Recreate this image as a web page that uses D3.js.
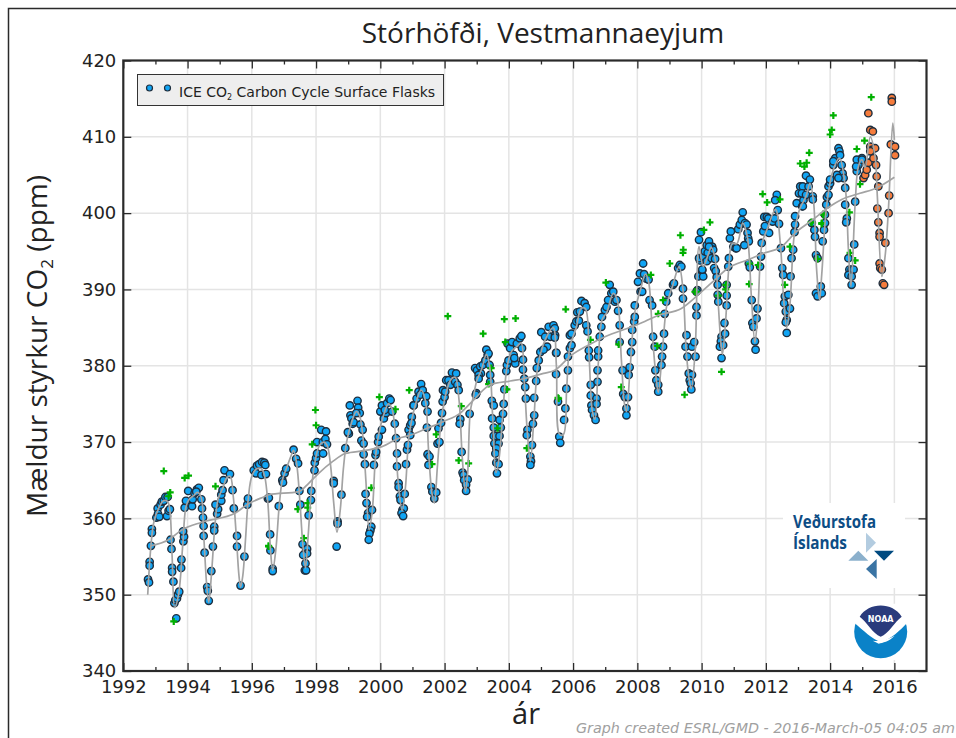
<!DOCTYPE html>
<html><head><meta charset="utf-8">
<script src="https://d3js.org/d3.v7.min.js"></script>
<style>html,body{margin:0;padding:0;background:#fff}svg{display:block}</style>
</head><body><svg id="c" width="956" height="738"></svg>
<script>
const yearTicks=[1992,1994,1996,1998,2000,2002,2004,2006,2008,2010,2012,2014,2016];
const minorYears=[1993,1995,1997,1999,2001,2003,2005,2007,2009,2011,2013,2015];
const ppmTicks=[340,350,360,370,380,390,400,410,420];
const flasks1990s=[[1992.77,352],[1992.8,351.6],[1992.82,354.3],[1992.82,353.8],[1992.86,356.4],[1992.89,358.6],[1992.89,358.1],[1993.03,360.1],[1993.07,361.3],[1993.08,360.6],[1993.12,360.2],[1993.16,361.8],[1993.2,362.2],[1993.26,362.3],[1993.31,362.8],[1993.38,362.8],[1993.36,360.3],[1993.41,361],[1993.45,361.2],[1993.47,357.2],[1993.5,356],[1993.52,353.5],[1993.52,353],[1993.56,351.7],[1993.59,348.9],[1993.62,349.3],[1993.67,349.5],[1993.7,350],[1993.74,350.4],[1993.65,346.9],[1993.8,353.5],[1993.81,354.6],[1993.87,357],[1993.89,357.6],[1993.86,358.3],[1993.91,361.4],[1993.95,362.3],[1994.02,363.6],[1994.14,361.6],[1994.16,362.5],[1994.22,363.3],[1994.29,363.8],[1994.35,364],[1994.27,363.5],[1994.43,362.5],[1994.45,361.3],[1994.48,360.1],[1994.5,359],[1994.5,357.7],[1994.53,355.5],[1994.61,351],[1994.63,350.5],[1994.66,349.2],[1994.74,353.1],[1994.79,356.3],[1994.83,358.9],[1994.83,358.4],[1994.92,360.6],[1994.95,361.2],[1994.87,361.8],[1995.05,362.3],[1995.05,363.1],[1995.09,363.7],[1995.12,365],[1995.15,366.3],[1995.32,365.8],[1995.4,363.7],[1995.44,361.3],[1995.54,357.7],[1995.54,356.3],[1995.65,351.2],[1995.77,355],[1995.86,361.8],[1995.88,362.6],[1996.06,366.3],[1996.13,365.9],[1996.16,366.9],[1996.23,367.1],[1996.32,367.4],[1996.39,367.3],[1996.3,365.7],[1996.44,365.8],[1996.42,367],[1996.5,362.6],[1996.53,362.7],[1996.57,357.9],[1996.58,355.8],[1996.65,353.4],[1996.65,353.1],[1996.84,361.6],[1996.95,365],[1996.97,364.7],[1997.02,365.9],[1997.07,366.5],[1997.3,369],[1997.38,367.8],[1997.44,367.2],[1997.48,363.6],[1997.51,361.8],[1997.58,356.6],[1997.69,355.8],[1997.72,356],[1997.72,355.4],[1997.6,355.2],[1997.67,354.1],[1997.65,353.2],[1997.69,353.2],[1997.77,360.4],[1997.84,362.4],[1997.85,363.6],[1997.95,366.3],[1997.96,367.3],[1998,367.9],[1998.03,368.5],[1998.03,370],[1998.16,371.6],[1998.21,370],[1998.31,371.4],[1998.29,370.4],[1998.34,369.7],[1998.22,368.5],[1998.55,364.9],[1998.55,364.6],[1998.79,363.1],[1998.67,359.6],[1998.67,359.3],[1998.64,356.3],[1998.91,369.2],[1999.02,371.1],[1998.99,371.3],[1999.05,374.8],[1999.07,373.5],[1999.1,373.1],[1999.14,372.4],[1999.17,372.6],[1999.29,375.4],[1999.31,374.5],[1999.36,373.8],[1999.25,373.8],[1999.38,372.3],[1999.45,371.6],[1999.41,370.2],[1999.48,369.8],[1999.48,368.4],[1999.52,367.1],[1999.54,363.2],[1999.57,362],[1999.62,360.7],[1999.59,360.2],[1999.72,358.9],[1999.69,358.4],[1999.66,358],[1999.64,357.2],[1999.74,361.1],[1999.8,367],[1999.85,368.3],[1999.87,368.7],[1999.93,370],[1999.95,370.7]];
const flasks2000s=[[2000.05,371.6],[2000,374],[2000.05,374.8],[2000.11,373.1],[2000.18,373.8],[2000.14,374.2],[2000.21,375.1],[2000.28,375.7],[2000.32,375.5],[2000.37,374],[2000.45,372.4],[2000.49,370.5],[2000.52,368.5],[2000.52,366.8],[2000.57,364.6],[2000.57,364.1],[2000.61,362.9],[2000.63,362.4],[2000.69,361.1],[2000.73,361.3],[2000.66,360.7],[2000.71,360.3],[2000.76,363.2],[2000.8,367.1],[2000.83,369],[2000.86,369.6],[2000.88,371.6],[2000.93,370.9],[2000.98,373.3],[2000.93,372.2],[2000.97,372.5],[2001.03,374.8],[2001.04,374.8],[2001.13,375.7],[2001.19,376.6],[2001.27,377.6],[2001.32,376.8],[2001.24,376.2],[2001.43,376],[2001.4,375.1],[2001.47,374],[2001.45,371.9],[2001.47,368.4],[2001.53,368.1],[2001.5,367],[2001.59,364.1],[2001.62,363.5],[2001.68,362.6],[2001.74,363.4],[2001.78,369.8],[2001.84,370],[2001.81,371.8],[2001.89,372.5],[2001.92,373.8],[2001.94,375.3],[2002,375.9],[2001.95,376.8],[2002.02,376.6],[2002.05,378.1],[2002.12,378.1],[2002.18,377.5],[2002.23,379.1],[2002.36,379],[2002.33,377.9],[2002.4,377.5],[2002.44,376.8],[2002.49,373],[2002.47,372.4],[2002.53,368.7],[2002.56,366],[2002.59,365.7],[2002.61,365],[2002.72,365.1],[2002.67,364.4],[2002.67,363.6],[2002.78,373.7],[2002.99,376.4],[2002.97,376.2],[2002.95,379.7],[2003.01,379.4],[2003.11,379.9],[2003.13,379],[2003.06,378.8],[2003.06,378.3],[2003.19,380.1],[2003.27,380.7],[2003.3,382.1],[2003.34,381.4],[2003.37,381.6],[2003.4,380.1],[2003.42,378.8],[2003.42,377.9],[2003.47,375.4],[2003.53,374.8],[2003.48,373.1],[2003.53,371.9],[2003.53,370.8],[2003.61,370.8],[2003.71,370.8],[2003.55,369.8],[2003.68,369.8],[2003.61,369.2],[2003.58,368.5],[2003.61,367.3],[2003.68,367.1],[2003.63,365.9],[2003.75,371.9],[2003.71,372.9],[2003.82,373.7],[2003.84,375],[2003.86,376.9],[2003.92,379.3],[2003.94,380.1],[2003.99,380.7],[2003.96,382.9],[2004.04,382.3],[2004.1,383.1],[2004.15,381.4],[2004.2,380.3],[2004.17,381],[2004.25,382.9],[2004.34,383.6],[2004.39,383.9],[2004.41,382.3],[2004.44,380.8],[2004.44,379.5],[2004.48,378.3],[2004.51,377.2],[2004.53,375.7],[2004.58,371.6],[2004.56,370.9],[2004.72,369.6],[2004.67,368.1],[2004.69,367.5],[2004.67,367],[2004.75,372.4],[2004.79,373.5],[2004.79,375.8],[2004.85,378],[2004.87,379.7],[2004.93,380.7],[2004.98,381.8],[2005.01,384.4],[2005.13,383.8],[2005.19,382.5],[2005.08,382.1],[2005.24,385.1],[2005.39,385.3],[2005.29,383.8],[2005.44,384],[2005.47,381.7],[2005.47,378.9],[2005.57,370.7],[2005.6,369.9],[2005.43,384.9],[2005.43,383.7],[2005.48,381.7],[2005.53,375.3],[2005.72,372.9],[2005.76,374.4],[2005.79,377],[2005.84,379.4],[2005.84,381.2],[2005.9,382.3],[2005.95,382.7],[2005.9,384],[2005.95,384.2],[2006.05,385.3],[2006.1,385.8],[2006.18,385.9],[2006.13,387],[2006.21,387.1],[2006.26,388.5],[2006.36,388.2],[2006.41,387.7],[2006.41,385.3],[2006.45,384.5],[2006.49,382],[2006.5,381.1],[2006.55,377.5],[2006.55,376.1],[2006.57,374.8],[2006.59,374.2],[2006.65,373.5],[2006.7,372.9],[2006.73,375.7],[2006.73,375],[2006.76,379.4],[2006.76,377.9],[2006.78,381.2],[2006.78,382],[2006.83,383.8],[2006.88,385.1],[2006.9,386.4],[2006.99,387.3],[2007.04,387.7],[2007.14,390.6],[2007.09,388.6],[2007.19,389.5],[2007.25,389.7],[2007.3,388.4],[2007.35,388.6],[2007.4,387.2],[2007.45,385.3],[2007.45,383.1],[2007.54,379.4],[2007.73,378.8],[2007.76,379.8],[2007.56,376.3],[2007.61,375.9],[2007.71,375.9],[2007.66,374.4],[2007.66,373.5],[2007.8,381.8],[2007.84,383.1],[2007.84,384.7],[2007.9,385.8],[2007.92,386.4],[2007.92,387.9],[2008.02,391],[2008.1,389.7],[2008.15,389.7],[2008.08,392.1],[2008.18,393.4],[2008.21,392],[2008.28,391.4],[2008.35,391.3],[2008.38,388.6],[2008.46,387.9],[2008.49,383.8],[2008.54,382.5],[2008.56,379.4],[2008.59,378.1],[2008.65,377.5],[2008.65,376.6],[2008.75,380.1],[2008.77,381.2],[2008.8,382.5],[2008.83,384.2],[2008.85,386.8],[2008.9,388.4],[2008.96,389.5],[2009.11,390.6],[2009.14,390.8],[2009.27,392.8],[2009.32,393.2],[2009.37,393],[2009.42,390.1],[2009.42,388.8],[2009.53,384],[2009.5,382.5],[2009.56,381.2],[2009.7,382.5],[2009.77,383.1],[2009.81,381.2],[2009.6,379],[2009.7,378.8],[2009.63,378.1],[2009.66,377.7],[2009.68,376.9],[2009.84,386.6],[2009.84,387.7],[2009.87,389.9],[2009.9,391.7],[2009.95,393.8]];
const flasks2010s=[[2009.92,396.5],[2009.98,397.5],[2009.84,389.7],[2009.92,394.1],[2010.02,392.5],[2010.05,394.3],[2010.05,391.7],[2010.02,392.6],[2010.1,395],[2010.16,393.7],[2010.19,394.8],[2010.16,395.8],[2010.23,396.3],[2010.33,395.6],[2010.36,395.2],[2010.23,395.6],[2010.31,394.1],[2010.42,394],[2010.39,392.8],[2010.44,392.4],[2010.47,391.6],[2010.5,390.6],[2010.5,389.3],[2010.52,388.4],[2010.62,383.8],[2010.6,383.2],[2010.57,382.5],[2010.67,382.7],[2010.62,381],[2010.73,384.2],[2010.71,385.6],[2010.78,387.9],[2010.78,389.2],[2010.78,390.6],[2010.83,393],[2010.85,394.1],[2010.88,396.7],[2010.91,397.6],[2010.99,395.6],[2011.06,395.4],[2011.09,395.4],[2011.14,397.9],[2011.19,398.5],[2011.25,399.1],[2011.28,400.1],[2011.35,398.7],[2011.4,398.5],[2011.43,397.4],[2011.45,396.7],[2011.47,396.3],[2011.33,395.8],[2011.47,393.4],[2011.5,392.9],[2011.56,388.6],[2011.58,385.6],[2011.61,385.1],[2011.71,386.2],[2011.74,387.5],[2011.66,383.2],[2011.68,382.1],[2011.82,393],[2011.85,394.3],[2011.87,396.1],[2011.92,397.6],[2011.95,399.5],[2012.03,399.5],[2012.08,399.3],[2011.97,398.3],[2012.1,397.4],[2012.21,398.9],[2012.27,399.3],[2012.34,402.4],[2012.29,401.7],[2012.37,400.4],[2012.41,398.6],[2012.47,395.4],[2012.51,392.8],[2012.54,391.9],[2012.59,389.1],[2012.57,388.2],[2012.62,387.1],[2012.75,387.5],[2012.7,389.3],[2012.65,386],[2012.62,385.7],[2012.65,384.3],[2012.77,391.7],[2012.8,394.1],[2012.85,395.2],[2012.89,397.5],[2012.91,398.5],[2012.91,399.6],[2012.96,401.3],[2013.13,400.9],[2013.03,402.6],[2013.17,401.7],[2013.07,403.5],[2013.15,403.5],[2013.12,402.6],[2013.25,402.4],[2013.33,403.5],[2013.25,404.9],[2013.37,404.4],[2013.46,402.2],[2013.46,401.8],[2013.15,400.9],[2013.43,398.7],[2013.51,397.8],[2013.53,396.9],[2013.56,394.5],[2013.61,394.1],[2013.56,389.5],[2013.61,389.1],[2013.71,390.4],[2013.74,389.5],[2013.77,396.3],[2013.81,397.8],[2013.84,398.7],[2013.84,399.8],[2013.88,401.1],[2013.9,402.1],[2013.95,402.4],[2013.95,403.5],[2014,403.9],[2014,404.4],[2014.1,406.3],[2014.16,407.2],[2014.26,408.5],[2014.29,408.1],[2014.31,407.6],[2014.36,406.3],[2014.39,405.2],[2014.42,404.6],[2014.47,403.3],[2014.21,405],[2014.26,404.6],[2014.1,406.8],[2014.47,401.1],[2014.52,399.3],[2014.5,398.8],[2014.57,394.1],[2014.6,392.6],[2014.67,392.6],[2014.73,392.6],[2014.57,391.9],[2014.67,391.7],[2014.67,390.6],[2014.75,395.9],[2014.78,401.5],[2014.83,405.5],[2014.88,406.3],[2014.99,407.2],[2014.83,407],[2014.99,407],[2014.81,406.1]];
const flasksRecent=[[2015.04,404.6],[2015.09,405],[2015.14,405.7],[2015.19,406.6],[2015.19,413.1],[2015.25,410.9],[2015.33,410.7],[2015.25,408.7],[2015.3,408.3],[2015.4,408.5],[2015.25,408.1],[2015.35,407.2],[2015.43,406.3],[2015.45,404.8],[2015.5,403.5],[2015.47,400.6],[2015.5,398.8],[2015.54,397.4],[2015.54,396.9],[2015.54,393.4],[2015.56,392.8],[2015.61,392.6],[2015.64,390.8],[2015.68,390.6],[2015.72,396.1],[2015.82,400],[2015.84,402.3],[2015.89,409],[2016.02,408.7],[2016.02,407.6],[2015.92,415.1],[2015.92,414.6]];
const rejected=[[1993.26,366.2],[1993.46,363.4],[1993.41,362.9],[1993.91,365.3],[1994.03,365.6],[1994.87,364.2],[1993.57,346.5],[1996.52,356.4],[1997.98,374.2],[1998,372.2],[1997.88,369.7],[1997.74,362],[1997.74,361.4],[1997.43,361.2],[1997.62,357.4],[1996.53,356.3],[1999.97,375.9],[2000.47,374.3],[1999.72,364],[2000.9,376.8],[2002.1,386.5],[2003.2,384.2],[2003.86,386.1],[2004.21,386.2],[2003.89,383.1],[2003.45,379.7],[2003.37,377.6],[2003.94,376.9],[2002.52,374.7],[2001.74,371],[2001.61,367.1],[2002.44,367.6],[2002.75,367.2],[2003.65,371.8],[2004.56,369.2],[2005.55,375.7],[2005.77,387.4],[2007.02,390.9],[2008.42,391.9],[2009.01,393.4],[2009.42,394.8],[2008.8,388.6],[2008.65,386.8],[2006.54,383.4],[2007.42,382.8],[2008.62,382.6],[2007.5,377.2],[2009.47,376.2],[2009.84,389.7],[2005.53,375.8],[2009.34,397.1],[2009.43,395.2],[2011.9,402.5],[2010.26,398.8],[2010.07,397.8],[2012.04,401.4],[2012.44,401.8],[2010.62,379.2],[2010.76,390.6],[2010.75,390],[2010.52,389.2],[2011.5,393.4],[2011.76,393.2],[2011.48,390.7],[2012.75,395.6],[2012.59,390.6],[2013.61,394],[2013.43,398.8],[2013.74,398.7],[2013.79,399.8],[2009.79,389.7],[2015.28,415.2],[2014.1,412.8],[2014.05,410.9],[2014,410.3],[2013.35,407.9],[2013.27,406.6],[2013.2,406.1],[2013.07,406.5],[2015.07,409.5],[2014.83,408.4],[2014.93,403.8],[2014.6,400.1],[2013.79,399.9],[2013.74,398.6],[2013.41,398.8],[2014.62,394.8],[2014.78,393.8]];
const fitLine=[[1992.76,350],[1992.86,356.4],[1992.95,359.5],[1993.1,361.3],[1993.25,362.3],[1993.38,362.2],[1993.45,361],[1993.52,355],[1993.6,348.3],[1993.72,350],[1993.85,356.5],[1993.95,361.5],[1994.05,362.5],[1994.2,363],[1994.3,363.4],[1994.42,362.8],[1994.5,358],[1994.6,351],[1994.66,349],[1994.75,353],[1994.85,359],[1994.95,362.5],[1995.1,364],[1995.22,365.3],[1995.33,365.5],[1995.42,363],[1995.52,357.5],[1995.6,352.5],[1995.65,351],[1995.72,352.5],[1995.8,357],[1995.9,363],[1996,365.5],[1996.15,366.5],[1996.3,366.5],[1996.4,365.5],[1996.5,362],[1996.58,356],[1996.65,353.2],[1996.75,356],[1996.85,361.5],[1996.95,365],[1997.1,366.8],[1997.25,368.5],[1997.3,368.9],[1997.4,367],[1997.5,362],[1997.58,357],[1997.67,353.5],[1997.75,357.5],[1997.85,363.5],[1997.95,367],[1998.1,369.5],[1998.25,370],[1998.35,369.5],[1998.45,367],[1998.55,362],[1998.65,358.2],[1998.75,361],[1998.85,366.5],[1998.95,370],[1999.1,372.5],[1999.25,374],[1999.35,373.5],[1999.45,371],[1999.55,365],[1999.65,358.5],[1999.75,361],[1999.85,368],[1999.95,371],[2000.1,373.5],[2000.25,375],[2000.35,374.5],[2000.45,372],[2000.55,365],[2000.68,361],[2000.78,364],[2000.9,371],[2001.1,375],[2001.27,376.8],[2001.4,375.5],[2001.5,369],[2001.6,363.5],[2001.68,362],[2001.78,367],[2001.9,373],[2002.05,376.5],[2002.2,378.2],[2002.33,378.5],[2002.45,375.5],[2002.55,368],[2002.65,363.5],[2002.72,366],[2002.8,374],[2002.9,376],[2003,378],[2003.15,379.5],[2003.3,381.5],[2003.4,380],[2003.5,373],[2003.6,366],[2003.7,368],[2003.8,373],[2003.95,380],[2004.1,382],[2004.25,382.5],[2004.38,383],[2004.48,378],[2004.58,371],[2004.67,367.5],[2004.78,373],[2004.9,380],[2005.05,382.5],[2005.2,384],[2005.38,385],[2005.48,380],[2005.58,371],[2005.7,371],[2005.8,377],[2005.9,382.5],[2006.1,385],[2006.25,387.5],[2006.38,387.5],[2006.5,381],[2006.6,374],[2006.68,373],[2006.78,380],[2006.9,386],[2007.05,387],[2007.25,389.5],[2007.38,388.5],[2007.5,381],[2007.6,375],[2007.66,374],[2007.78,380],[2007.92,387],[2008.1,390],[2008.25,392],[2008.35,391],[2008.47,384],[2008.57,379],[2008.65,376.5],[2008.78,382],[2008.92,388],[2009.1,390.5],[2009.3,393],[2009.42,390],[2009.52,382],[2009.62,378],[2009.68,377],[2009.8,382],[2009.92,395.6],[2010.05,393],[2010.2,394.5],[2010.3,395.5],[2010.42,394],[2010.52,388],[2010.6,383],[2010.65,381.5],[2010.75,386],[2010.85,393],[2010.95,396],[2011.1,396],[2011.28,398.7],[2011.42,397],[2011.55,389],[2011.66,383],[2011.75,387],[2011.88,396],[2012.05,398],[2012.3,400.5],[2012.45,396],[2012.55,389],[2012.65,385],[2012.75,388],[2012.88,397],[2013.05,400.5],[2013.25,402.2],[2013.37,403.9],[2013.48,401.7],[2013.58,392.6],[2013.67,388.6],[2013.74,392],[2013.9,401.3],[2014.1,405.7],[2014.29,407.2],[2014.47,403.5],[2014.57,395.2],[2014.65,390.4],[2014.78,401.3],[2014.88,406.1],[2014.99,407],[2015.09,406],[2015.25,410],[2015.4,407.4],[2015.47,402.2],[2015.61,391.7],[2015.71,394.3],[2015.82,400.9],[2015.95,411.8],[2016,409.6]];
const trendLine=[[1992.86,356.4],[1993.41,357.2],[1993.83,358.5],[1994.45,359.5],[1995.49,360.7],[1995.85,361.8],[1996.42,362.9],[1996.53,363.1],[1997.46,363.5],[1997.77,364.6],[1998.08,365.9],[1998.5,367.4],[1998.91,368.5],[1999.54,368.9],[2000.05,369.4],[2000.57,370.5],[2000.93,370.9],[2001.45,371.8],[2001.97,372.7],[2002.49,373.8],[2002.9,375.5],[2003.42,377.5],[2004.04,378],[2004.46,378.3],[2005.08,379],[2005.43,379.4],[2005.95,381.4],[2006.47,382.7],[2006.99,383.8],[2007.82,385.1],[2008.23,385.8],[2008.65,386.6],[2009.37,387.5],[2010,389.7],[2010.42,391.3],[2010.83,392.8],[2011.45,393.9],[2011.97,394.8],[2012.49,395.6],[2012.91,397.4],[2013.42,399],[2014,400.9],[2014.36,401.8],[2014.93,402.6],[2015.45,403.3],[2016,404.7]];
const titleText="Stórhöfði, Vestmannaeyjum";
const xLabel="ár";
const creditText="Graph created ESRL/GMD - 2016-March-05 04:05 am";

const svg=d3.select("#c");
const X=d3.scaleLinear().domain([1992,2017]).range([123.3,926.5]);
const Y=d3.scaleLinear().domain([340,420]).range([671,60.5]);
const H=Y(340)-Y(420),W=X(2017)-X(1992);

svg.append("path").attr("d","M8.5,738V8.5H956").attr("fill","none").attr("stroke","#2a2a2a").attr("stroke-width",1.5);

const grid=svg.append("g").attr("stroke","#e4e4e4").attr("stroke-width",1.5);
grid.selectAll("line.v").data(yearTicks.slice(1)).join("line").attr("x1",X).attr("x2",X).attr("y1",Y(340)).attr("y2",Y(420));
grid.selectAll("line.h").data(ppmTicks.slice(1,-1)).join("line").attr("y1",Y).attr("y2",Y).attr("x1",X(1992)).attr("x2",X(2017));

svg.append("rect").attr("x",783).attr("y",503).attr("width",122).attr("height",85).attr("fill","#fff");
svg.append("rect").attr("x",851).attr("y",604).attr("width",60).attr("height",56).attr("fill","#fff");

const dot=(data,fill)=>svg.append("g").selectAll("circle").data(data).join("circle")
  .attr("cx",d=>X(d[0])).attr("cy",d=>Y(d[1])).attr("r",3.7).attr("fill",fill).attr("stroke","#1f2f3f").attr("stroke-width",1.4);
dot(flasks1990s,"#10a5f5");dot(flasks2000s,"#10a5f5");dot(flasks2010s,"#10a5f5");dot(flasksRecent,"#f67c3c");
svg.append("g").selectAll("path").data(rejected).join("path")
  .attr("transform",d=>`translate(${X(d[0])},${Y(d[1])})`).attr("d","M-3.5,0H3.5M0,-3.5V3.5").attr("stroke","#00b000").attr("stroke-width",2.2).attr("fill","none");
const ln=d3.line().x(d=>X(d[0])).y(d=>Y(d[1]));
svg.append("path").attr("d",ln.curve(d3.curveCatmullRom.alpha(0.5))(fitLine)).attr("fill","none").attr("stroke","#a3a3a3").attr("stroke-width",1.7);
svg.append("path").attr("d",ln.curve(d3.curveMonotoneX)(trendLine)).attr("fill","none").attr("stroke","#a3a3a3").attr("stroke-width",1.7);

function style(g){g.select(".domain").remove();g.selectAll("line").attr("stroke","#2a2a2a").attr("stroke-width",1.3);
  g.selectAll("text").attr("font-family","'DejaVu Sans'").attr("font-size",18).attr("fill","#222");}
const fmt=d3.format("d");
svg.append("g").attr("transform",`translate(0,${Y(340)})`).call(d3.axisBottom(X).tickValues(yearTicks).tickFormat(fmt).tickSize(-8).tickPadding(7)).call(style)
  .selectAll("text").attr("y",6).attr("dy","0.9em");
svg.append("g").attr("transform",`translate(0,${Y(340)})`).call(d3.axisBottom(X).tickValues(minorYears).tickFormat("").tickSize(-4)).call(style);
svg.append("g").attr("transform",`translate(0,${Y(420)})`).call(d3.axisTop(X).tickValues(yearTicks).tickFormat("").tickSize(-8)).call(style);
svg.append("g").attr("transform",`translate(0,${Y(420)})`).call(d3.axisTop(X).tickValues(minorYears).tickFormat("").tickSize(-4)).call(style);
svg.append("g").attr("transform",`translate(${X(1992)},0)`).call(d3.axisLeft(Y).tickValues(ppmTicks).tickFormat(fmt).tickSize(-8).tickPadding(7)).call(style);
svg.append("g").attr("transform",`translate(${X(2017)},0)`).call(d3.axisRight(Y).tickValues(ppmTicks).tickFormat("").tickSize(-8)).call(style);
svg.append("rect").attr("x",X(1992)).attr("y",Y(420)).attr("width",W).attr("height",H).attr("fill","none").attr("stroke","#2a2a2a").attr("stroke-width",2.2);

svg.append("text").attr("x",543).attr("y",43).attr("text-anchor","middle").attr("font-family","'Open Sans'").attr("font-size",28).attr("fill","#222").text(titleText);
svg.append("text").attr("x",526).attr("y",724).attr("text-anchor","middle").attr("font-family","'Open Sans'").attr("font-size",29).attr("fill","#222").text(xLabel);
const yl=svg.append("text").attr("transform","translate(47,346) rotate(-90)").attr("text-anchor","middle").attr("font-family","'Open Sans'").attr("font-size",28).attr("fill","#222");
yl.append("tspan").text("Mældur styrkur CO");
yl.append("tspan").attr("font-size",17).attr("dy",6).text("2");
yl.append("tspan").attr("dy",-6).text(" (ppm)");
svg.append("text").attr("x",955).attr("y",733).attr("text-anchor","end").attr("font-family","'DejaVu Sans'").attr("font-style","italic").attr("font-size",14.3).attr("fill","#a0a0a0").text(creditText);

svg.append("rect").attr("x",137.5).attr("y",74.5).attr("width",306).attr("height",31).attr("fill","#eeeeee").attr("stroke","#333").attr("stroke-width",1);
svg.selectAll("circle.lg").data([149.5,167.5]).join("circle").attr("class","lg").attr("cx",d=>d).attr("cy",88).attr("r",3).attr("fill","#10a5f5").attr("stroke","#1f2f3f").attr("stroke-width",1.2);
const lg=svg.append("text").attr("x",179).attr("y",97).attr("font-family","'DejaVu Sans'").attr("font-size",14).attr("fill","#222");
lg.append("tspan").text("ICE CO");
lg.append("tspan").attr("font-size",8).attr("dy",3).text("2");
lg.append("tspan").attr("dy",-3).text(" Carbon Cycle Surface Flasks");

const vi=svg.append("g").attr("font-family","'Open Sans'").attr("font-weight",700).attr("font-size",18).attr("fill","#0d4d85");
vi.append("text").attr("x",793).attr("y",528).attr("textLength",83).attr("lengthAdjust","spacingAndGlyphs").text("Veðurstofa");
vi.append("text").attr("x",793).attr("y",549).attr("textLength",54).attr("lengthAdjust","spacingAndGlyphs").text("Íslands");
const tri=[["M866,532.7L876,542.7L866,552.7Z","#b3cce0"],["M874,550.7H894L884,560.7Z","#004a80"],["M848.3,560.7L858.3,550.7L868.3,560.7Z","#8bb0cc"],["M876.7,559L866,569L876.7,579Z","#3a74a4"]];
svg.append("g").selectAll("path").data(tri).join("path").attr("d",d=>d[0]).attr("fill",d=>d[1]);

const n=svg.append("g").attr("transform","translate(880.7,631.7)");
n.append("circle").attr("r",26.5).attr("fill","#0a82c8");
n.append("path").attr("d","M-26.5,-9C-18,-2 -8,8 0,10C10,8 20,-2 26.5,-9L28,-28H-28Z").attr("fill","#fff");
n.append("path").attr("d","M-21,-15C-12,-30 12,-30 21,-15C14,-10 8,2 0,5C-8,2 -14,-10 -21,-15Z").attr("fill","#2a3b7c");
n.append("path").attr("d","M-8,9C2,10 8,7 14,4C8,10 2,11 -2,12Z").attr("fill","#fff");
n.append("text").attr("y",-10).attr("text-anchor","middle").attr("font-family","'DejaVu Sans'").attr("font-weight",700).attr("font-size",8).attr("fill","#fff").text("NOAA");
</script></body></html>
